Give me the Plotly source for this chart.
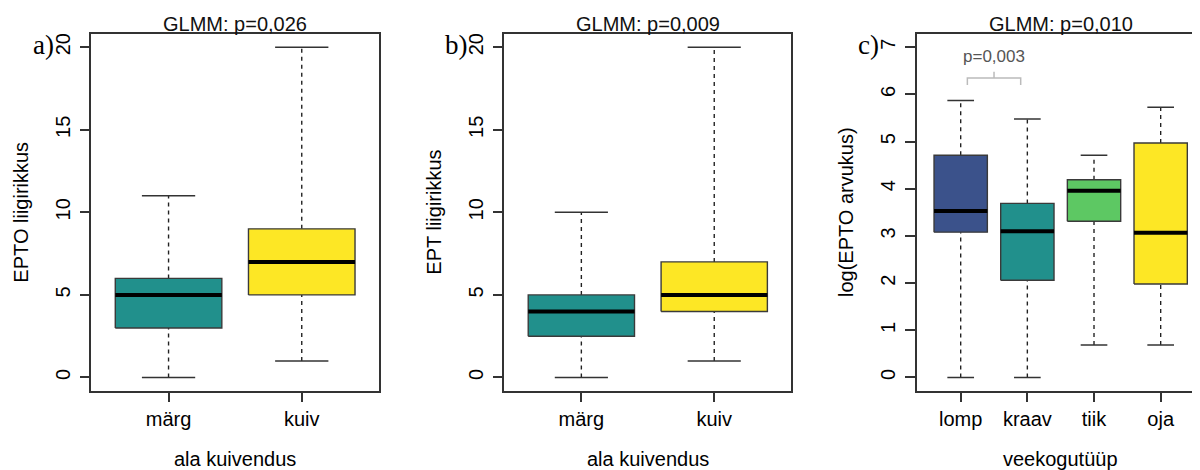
import plotly.graph_objects as go

# The page body adds an 8px margin, so the figure is offset by 8px.
OFF = 8
W, H = 1200 - OFF, 470 - OFF

# ---------------- data ----------------
cats_ab = ["märg", "kuiv"]
colors_ab = ["#21908C", "#FDE725"]

# panel a: EPTO liigirikkus
a_low = [0, 1]
a_q1 = [3, 5]
a_med = [5, 7]
a_q3 = [6, 9]
a_high = [11, 20]

# panel b: EPT liigirikkus
b_low = [0, 1]
b_q1 = [2.5, 4]
b_med = [4, 5]
b_q3 = [5, 7]
b_high = [10, 20]

# panel c: log(EPTO arvukus)
cats_c = ["lomp", "kraav", "tiik", "oja"]
colors_c = ["#3B528B", "#21908C", "#5DC863", "#FDE725"]
c_low = [0, 0, 0.69, 0.69]
c_q1 = [3.08, 2.06, 3.31, 1.98]
c_med = [3.53, 3.10, 3.96, 3.07]
c_q3 = [4.71, 3.69, 4.19, 4.97]
c_high = [5.87, 5.48, 4.71, 5.73]

yticks_ab = [0, 5, 10, 15, 20]
yticks_c = [0, 1, 2, 3, 4, 5, 6, 7]

titles = ["GLMM: p=0,026", "GLMM: p=0,009", "GLMM: p=0,010"]
ylabels = ["EPTO liigirikkus", "EPT liigirikkus", "log(EPTO arvukus)"]
xlabels = ["ala kuivendus", "ala kuivendus", "veekogutüüp"]
panel_tags = ["a)", "b)", "c)"]
pair_text = "p=0,003"

# ---------------- styling ----------------
SANS = "Liberation Sans, Arial, sans-serif"
SERIF = "Liberation Serif, Times New Roman, serif"
FRAME = "#333333"
HALF = 0.4      # half box width (boxwex 0.8)
STAPLE = 0.2    # half staple width

fig = go.Figure()


def add_boxes(xa, ya, low, q1, med, q3, high, colors):
    for i in range(len(low)):
        x = i + 1
        fig.add_trace(go.Scatter(
            x=[x, x, None, x, x], y=[low[i], q1[i], None, q3[i], high[i]],
            mode="lines", line=dict(color="#222222", width=1.4, dash="4px,4px"),
            xaxis=xa, yaxis=ya, showlegend=False, hoverinfo="skip"))
        fig.add_trace(go.Scatter(
            x=[x - STAPLE, x + STAPLE, None, x - STAPLE, x + STAPLE],
            y=[low[i], low[i], None, high[i], high[i]],
            mode="lines", line=dict(color="#333333", width=1.5),
            xaxis=xa, yaxis=ya, showlegend=False, hoverinfo="skip"))
        fig.add_trace(go.Scatter(
            x=[x - HALF, x + HALF, x + HALF, x - HALF, x - HALF],
            y=[q1[i], q1[i], q3[i], q3[i], q1[i]],
            mode="lines", fill="toself", fillcolor=colors[i],
            line=dict(color="#3a3a3a", width=1.4),
            xaxis=xa, yaxis=ya, showlegend=False, hoverinfo="skip"))
        fig.add_trace(go.Scatter(
            x=[x - HALF, x + HALF], y=[med[i], med[i]],
            mode="lines", line=dict(color="#000000", width=4),
            xaxis=xa, yaxis=ya, showlegend=False, hoverinfo="skip"))


add_boxes("x", "y", a_low, a_q1, a_med, a_q3, a_high, colors_ab)
add_boxes("x2", "y2", b_low, b_q1, b_med, b_q3, b_high, colors_ab)
add_boxes("x3", "y3", c_low, c_q1, c_med, c_q3, c_high, colors_c)

# comparison bracket in panel c
fig.add_trace(go.Scatter(
    x=[1.1, 1.1, 1.9, 1.9, None, 1.5, 1.5],
    y=[6.2, 6.35, 6.35, 6.2, None, 6.35, 6.48],
    mode="lines", line=dict(color="#BBBBBB", width=1.5),
    xaxis="x3", yaxis="y3", showlegend=False, hoverinfo="skip"))


def px_x(v):
    return (v - OFF) / W


def px_y(v):
    return 1 - (v - OFF) / H


# ---------------- layout ----------------
top_px, bot_px = 34, 390.7
ydom = [px_y(bot_px), px_y(top_px)]
panels = [
    dict(left=91.3, right=379.0, xr=[0.42, 2.58], yr=[-0.8, 20.8], yt=yticks_ab, cats=cats_ab),
    dict(left=504.3, right=791.3, xr=[0.42, 2.58], yr=[-0.8, 20.8], yt=yticks_ab, cats=cats_ab),
    dict(left=916.7, right=1200.0, xr=[0.34, 4.59], yr=[-0.28, 7.28], yt=yticks_c, cats=cats_c),
]

layout = dict(
    width=W, height=H, margin=dict(l=0, r=0, t=0, b=0),
    paper_bgcolor="white", plot_bgcolor="white",
    font=dict(family=SANS, size=20, color="#000000"),
    showlegend=False,
)

annotations = []
for k, p in enumerate(panels):
    sx = "" if k == 0 else str(k + 1)
    layout["xaxis" + sx] = dict(
        domain=[px_x(p["left"]), min(1.0, px_x(p["right"]))], range=p["xr"], anchor="y" + sx,
        tickmode="array", tickvals=list(range(1, len(p["cats"]) + 1)), ticktext=p["cats"],
        ticks="outside", ticklen=10, tickwidth=1.5, tickcolor=FRAME,
        showline=True, linecolor=FRAME, linewidth=1.5, mirror=True,
        showgrid=False, zeroline=False, fixedrange=True,
        tickfont=dict(family=SANS, size=20, color="#000000"),
    )
    layout["yaxis" + sx] = dict(
        domain=ydom, range=p["yr"], anchor="x" + sx,
        tickmode="array", tickvals=p["yt"], ticktext=[str(v) for v in p["yt"]],
        ticks="outside", ticklen=10, tickwidth=1.5, tickcolor=FRAME, tickangle=-90,
        ticklabelstandoff=2,
        showline=True, linecolor=FRAME, linewidth=1.5, mirror=(k < 2),
        showgrid=False, zeroline=False, fixedrange=True,
        tickfont=dict(family=SANS, size=20, color="#000000"),
    )
    cx = (p["left"] + (p["right"] if k < 2 else 1204.8)) / 2
    annotations.append(dict(text=titles[k], x=px_x(cx), y=px_y(24), xref="paper", yref="paper",
                            xanchor="center", yanchor="middle", showarrow=False,
                            font=dict(family=SANS, size=20, color="#111111")))
    annotations.append(dict(text=ylabels[k], x=px_x(p["left"] - 70), y=(ydom[0] + ydom[1]) / 2,
                            xref="paper", yref="paper", textangle=-90,
                            xanchor="center", yanchor="middle", showarrow=False,
                            font=dict(family=SANS, size=20, color="#000000")))
    annotations.append(dict(text=xlabels[k], x=px_x(cx), y=px_y(459), xref="paper", yref="paper",
                            xanchor="center", yanchor="middle", showarrow=False,
                            font=dict(family=SANS, size=20, color="#000000")))
    annotations.append(dict(text=panel_tags[k], x=px_x(p["left"] - 48), y=px_y(45),
                            xref="paper", yref="paper", xanchor="center", yanchor="middle",
                            showarrow=False, font=dict(family=SERIF, size=27, color="#000000")))

annotations.append(dict(text=pair_text, x=1.5, y=6.8, xref="x3", yref="y3",
                        xanchor="center", yanchor="middle", showarrow=False,
                        font=dict(family=SANS, size=17, color="#555555")))

layout["annotations"] = annotations
fig.update_layout(**layout)
fig.write_html("out.html")
